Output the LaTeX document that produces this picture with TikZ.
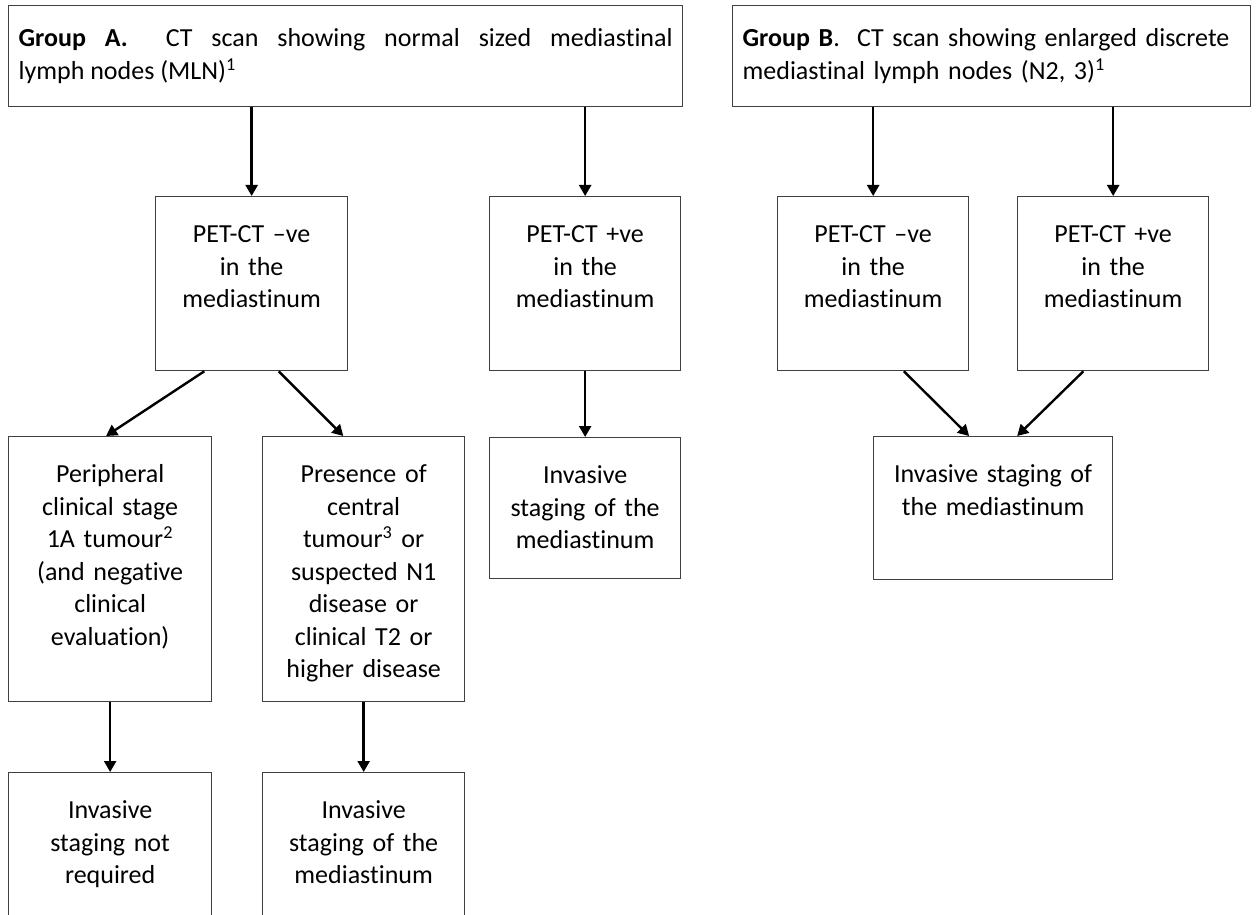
\documentclass[tikz,border=0pt]{standalone}
\usepackage{fontspec}
\setmainfont{Carlito}[Ligatures={NoCommon}]
\usetikzlibrary{arrows.meta,calc}

\colorlet{boxline}{black!75}
\newcommand{\boxfont}{\fontsize{13}{16.25}\selectfont}

\tikzset{
  headbox/.style={draw=boxline, line width=0.65pt, inner xsep=5pt, inner ysep=0pt,
    minimum height=50.5pt, anchor=north west},
  stepbox/.style={draw=boxline, line width=0.65pt, inner sep=0pt, anchor=north west,
    align=center, text height=23pt},
  flow/.style={-{Triangle[length=5.5pt,width=6pt]}, line width=1.2pt},
}

\begin{document}
\begin{tikzpicture}[x=0.5pt,y=-0.5pt,font=\boxfont]
\useasboundingbox (0,0) rectangle (1259,915);

% group headers
\node[headbox, text width=327pt, align=justify] (grpA) at (8,5)
  {\textbf{Group A.}~ CT scan showing normal sized mediastinal\linebreak lymph nodes (MLN)\textsuperscript{1}};
\node[headbox, text width=249pt, align=left] (grpB) at (732,5)
  {\textbf{Group B}.~ CT scan showing enlarged discrete\\mediastinal lymph nodes (N2, 3)\textsuperscript{1}};

% PET-CT results
\node[stepbox, text width=96pt, text depth=64pt] (petAneg) at (155,196) {PET-CT –ve\\in the\\mediastinum};
\node[stepbox, text width=95.5pt, text depth=64pt] (petApos) at (489,196) {PET-CT +ve\\in the\\mediastinum};
\node[stepbox, text width=95.5pt, text depth=64pt] (petBneg) at (777,196) {PET-CT –ve\\in the\\mediastinum};
\node[stepbox, text width=95.5pt, text depth=64pt] (petBpos) at (1017,196) {PET-CT +ve\\in the\\mediastinum};

% third row
\node[stepbox, text width=101.5pt, text depth=109.5pt] (periph) at (8,436)
  {Peripheral\\clinical stage\\1A tumour\textsuperscript{2}\\(and negative\\clinical\\evaluation)};
\node[stepbox, text width=101pt, text depth=109.5pt] (central) at (262,436)
  {Presence of\\central\\tumour\textsuperscript{3} or\\suspected N1\\disease or\\clinical T2 or\\higher disease};
\node[stepbox, text width=95.5pt, text depth=47.5pt] (invA) at (489,437) {Invasive\\staging of the\\mediastinum};
\node[stepbox, text width=119.5pt, text depth=48.5pt] (invB) at (873,436) {Invasive staging of\\the mediastinum};

% bottom row (runs off the page)
\node[stepbox, text width=101.5pt, text depth=57pt] (noinv) at (8,772) {Invasive\\staging not\\required};
\node[stepbox, text width=101pt, text depth=57pt] (invC) at (262,772) {Invasive\\staging of the\\mediastinum};

% arrows
\draw[flow] (grpA.south -| petAneg.north) -- (petAneg.north);
\draw[flow] (grpA.south -| petApos.north) -- (petApos.north);
\draw[flow] (grpB.south -| petBneg.north) -- (petBneg.north);
\draw[flow] (grpB.south -| petBpos.north) -- (petBpos.north);

\draw[flow] ($(petAneg.south west)!0.255!(petAneg.south east)$) -- ($(periph.north west)!0.48!(periph.north east)$);
\draw[flow] ($(petAneg.south west)!0.64!(petAneg.south east)$) -- ($(central.north west)!0.40!(central.north east)$);
\draw[flow] (petApos.south) -- (invA.north);
\draw[flow] ($(petBneg.south west)!0.66!(petBneg.south east)$) -- ($(invB.north west)!0.40!(invB.north east)$);
\draw[flow] ($(petBpos.south west)!0.345!(petBpos.south east)$) -- ($(invB.north west)!0.60!(invB.north east)$);

\draw[flow] (periph.south) -- (noinv.north);
\draw[flow] (central.south) -- (invC.north);

\end{tikzpicture}
\end{document}
